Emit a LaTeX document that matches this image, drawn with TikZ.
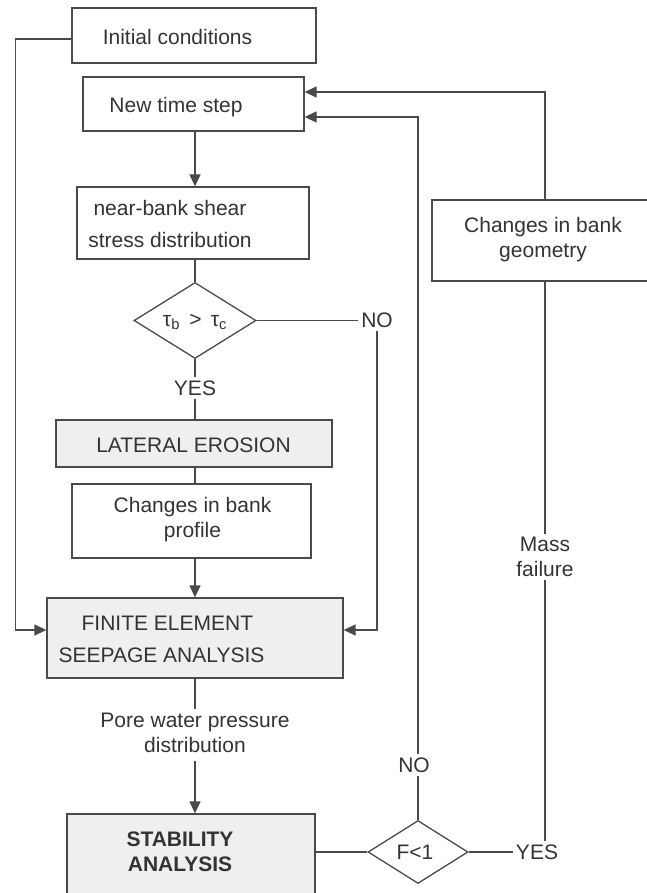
\documentclass[tikz,border=0pt]{standalone}
\usepackage{fontspec}
\setmainfont{Liberation Sans}
\usetikzlibrary{shapes.geometric,arrows.meta}
\definecolor{ln}{HTML}{4A4A4A}
\definecolor{tx}{HTML}{333333}
\definecolor{gf}{HTML}{EFEFEF}
\begin{document}
\begin{tikzpicture}[x=1pt,y=-1pt,
  box/.style={draw=ln, line width=1.3pt, rectangle, inner sep=0pt},
  gbox/.style={box, fill=gf},
  dia/.style={draw=ln, line width=1.3pt, diamond, inner sep=0pt},
  txt/.style={text=tx, font=\fontsize{21}{25}\selectfont, inner sep=3pt, align=center},
  con/.style={draw=ln, line width=1.3pt},
  arr/.style={con, -{Triangle[length=12pt,width=11pt]}}]
\useasboundingbox (0,0) rectangle (646,893);

% boxes
\node[box, minimum width=244pt, minimum height=55pt] (init) at (194,35.5) {};
\node[txt] (initT) at (177.5,37) {Initial conditions};

\node[box, minimum width=221pt, minimum height=54pt] (newstep) at (193.5,104) {};
\node[txt] (newstepT) at (176,107) {New time step};

\node[box, minimum width=232pt, minimum height=72pt] (nb) at (193,223) {};
\node[txt] (nbT) at (170,224) {near-bank shear\\[7pt]stress distribution};

\node[dia, minimum width=122pt, minimum height=76pt] (d1) at (195,320.5) {};
\node[txt] (d1T) at (195,322) {τ\textsubscript{b} \,>\, τ\textsubscript{c}};

\node[txt] (no1) at (377,320.5) {NO};
\node[txt] (yes1) at (195,388) {YES};

\node[gbox, minimum width=276pt, minimum height=47pt] (lat) at (194,443.5) {};
\node[txt] (latT) at (193.5,445) {LATERAL EROSION};

\node[box, minimum width=239pt, minimum height=74pt] (prof) at (191.5,521) {};
\node[txt] (profT) at (192.5,519.5) {Changes in bank\\profile};

\node[gbox, minimum width=296pt, minimum height=80pt] (fe) at (195,638) {};
\node[txt, align=left] (feT) at (161.5,639) {\hspace*{23pt}FINITE ELEMENT\\[7pt]SEEPAGE ANALYSIS};

\node[txt] (pore) at (195,732.5) {Pore water pressure\\distribution};

\node[gbox, minimum width=248pt, minimum height=86pt] (stab) at (191,857) {};
\node[txt] (stabT) at (180,851.5) {\textbf{STABILITY}\\\textbf{ANALYSIS}};

\node[dia, minimum width=100pt, minimum height=63pt] (d2) at (418,852) {};
\node[txt] (d2T) at (415,852) {F<1};

\node[txt] (yes2) at (537,852) {YES};
\node[txt] (no2) at (414,765) {NO};

\node[box, minimum width=226pt, minimum height=81pt] (geo) at (545,240.5) {};
\node[txt] (geoT) at (543,240) {Changes in bank\\geometry};

\node[txt] (mf) at (545,557) {Mass\\failure};

% connectors
\draw[arr] (newstep.south -| fe.north) -- (nb.north -| fe.north);
\draw[con] (nb.south -| d1.north) -- (d1.north);
\draw[con] (d1.south) -- (yes1.north);
\draw[con] (yes1.south) -- (lat.north -| yes1.south);
\draw[con] (lat.south -| fe.north) -- (prof.north -| fe.north);
\draw[arr] (prof.south -| fe.north) -- (fe.north);
\draw[con] (d1.east) -- (no1.west);
\draw[arr] (no1.south) |- ([yshift=8pt]fe.east);
\draw[arr] ([yshift=-3.5pt]init.west) -- ++(-56,0) |- ([yshift=8pt]fe.west);
\draw[con] (fe.south) -- (pore.north);
\draw[arr] ([yshift=-5pt]pore.south) -- (stab.north -| pore.south);
\draw[con] ([yshift=5pt]stab.east) -- (d2.west);
\draw[con] (d2.east) -- (yes2.west);
\draw[con] (yes2.north -| mf) -- (mf.south);
\draw[con] (mf.north) -- (geo.south);
\draw[arr] (geo.north) |- ([yshift=12pt]newstep.east);
\draw[con] (d2.north) -- (d2.north |- no2.south);
\draw[arr] (no2.north -| d2.north) |- ([yshift=-13pt]newstep.east);
\end{tikzpicture}
\end{document}
